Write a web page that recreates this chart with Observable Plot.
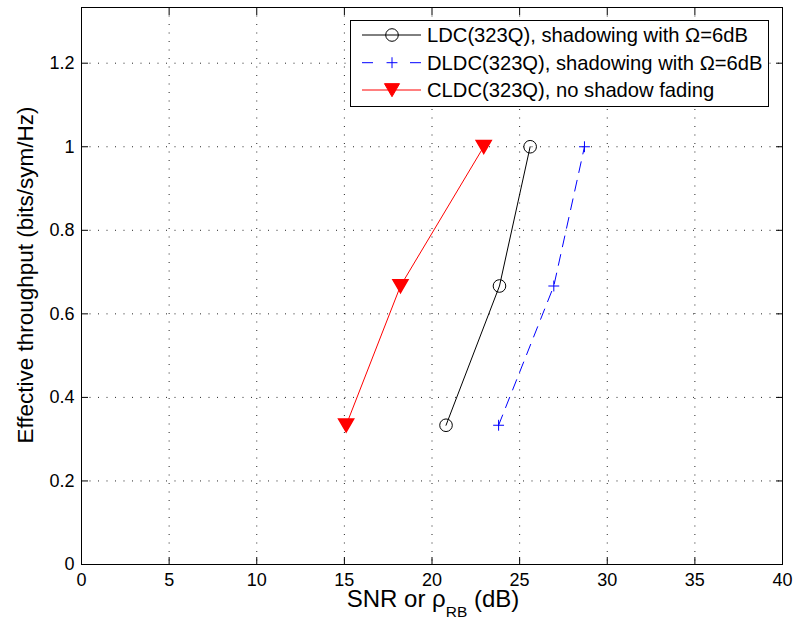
<!DOCTYPE html>
<html><head><meta charset="utf-8">
<script src="https://cdn.jsdelivr.net/npm/d3@7"></script>
<script src="https://cdn.jsdelivr.net/npm/@observablehq/plot@0.6"></script>
<style>
body{margin:0;background:#fff}
svg{font-family:"Liberation Sans",Arial,Helvetica,sans-serif}
</style>
</head><body><div id="chart"></div>
<script>
// ---- data ----
const throughput = [1/3, 2/3, 1];
const snrLDC  = [20.8, 23.85, 25.6];
const snrDLDC = [23.8, 26.95, 28.7];
const snrCLDC = [15.1, 18.2, 22.95];
const seriesNames = [
  "LDC(323Q), shadowing with \u03A9=6dB",
  "DLDC(323Q), shadowing with \u03A9=6dB",
  "CLDC(323Q), no shadow fading"
];
const xTicks = [0, 5, 10, 15, 20, 25, 30, 35, 40];
const yTicks = [0, 0.2, 0.4, 0.6, 0.8, 1, 1.2];
const xLabel = "SNR or \u03C1";
const xLabelSub = "RB";
const xLabelTail = " (dB)";
const yLabel = "Effective throughput (bits/sym/Hz)";

const rows = (snr, name) => snr.map((s, i) => ({series: name, snr: s, thr: throughput[i]}));
const ldc = rows(snrLDC, seriesNames[0]);
const dldc = rows(snrDLDC, seriesNames[1]);
const cldc = rows(snrCLDC, seriesNames[2]);

const RED = "#ff0000", BLUE = "#0000ff", BLACK = "#000000";
const grid = {stroke: "#000", strokeOpacity: 0.85, strokeWidth: 1, strokeDasharray: "1,7.5"};
const fmt = d => String(+(+d).toFixed(1));
const PLUS_R = 3.6;

const chart = Plot.plot({
  width: 802, height: 618,
  marginLeft: 81, marginRight: 20, marginTop: 7, marginBottom: 54,
  style: {fontFamily: '"Liberation Sans", Arial, Helvetica, sans-serif', fontSize: "18px", color: "#000", background: "#fff", overflow: "visible"},
  x: {domain: [0, 40], label: null},
  y: {domain: [0, 4/3], label: null},
  marks: [
    Plot.gridX(xTicks, grid),
    Plot.gridY(yTicks, grid),
    Plot.axisX(xTicks, {anchor: "bottom", tickSize: -7, tickPadding: 16, tickFormat: fmt, label: null}),
    Plot.axisX(xTicks, {anchor: "top", tickSize: -7, tickFormat: () => "", label: null}),
    Plot.axisY(yTicks, {anchor: "left", tickSize: -7, tickPadding: 14, tickFormat: fmt, label: null}),
    Plot.axisY(yTicks, {anchor: "right", tickSize: -7, tickFormat: () => "", label: null}),
    Plot.frame({stroke: "#000", strokeWidth: 1}),
    Plot.line(cldc, {x: "snr", y: "thr", stroke: RED, strokeWidth: 1}),
    Plot.line(ldc, {x: "snr", y: "thr", stroke: BLACK, strokeWidth: 1}),
    Plot.line(dldc, {x: "snr", y: "thr", stroke: BLUE, strokeWidth: 1, strokeDasharray: "11,8"}),
    Plot.dot(cldc, {x: "snr", y: "thr", symbol: "triangle", rotate: 180, r: 5.6, fill: RED, stroke: RED, dy: -2}),
    Plot.dot(ldc, {x: "snr", y: "thr", symbol: "circle", r: 6.3, fill: "none", stroke: BLACK, strokeWidth: 1}),
    Plot.dot(dldc, {x: "snr", y: "thr", symbol: "plus", r: PLUS_R, stroke: BLUE, strokeWidth: 1})
  ]
});
document.getElementById("chart").appendChild(chart);

const svg = d3.select(chart);
// axis labels
const xl = svg.append("text").attr("x", 433).attr("y", 607).attr("text-anchor", "middle")
  .attr("font-size", 24).attr("fill", "#000");
xl.append("tspan").text(xLabel);
xl.append("tspan").attr("font-size", 15.5).attr("dy", 9.5).text(xLabelSub);
xl.append("tspan").attr("dy", -9.5).text(xLabelTail);

svg.append("text").attr("transform", "translate(33,275) rotate(-90)").attr("text-anchor", "middle")
  .attr("font-size", 22.5).attr("fill", "#000").text(yLabel);

// legend
const lg = svg.append("g").attr("text-anchor", "start");
lg.append("rect").attr("x", 350.5).attr("y", 20.5).attr("width", 418).attr("height", 86)
  .attr("fill", "#fff").attr("stroke", "#000").attr("stroke-width", 1);
const legendItems = [
  {name: seriesNames[0], color: BLACK, dash: null, sym: d3.symbolCircle, size: Math.PI * 6.3 * 6.3, fill: "none", rot: 0, dy: 0},
  {name: seriesNames[1], color: BLUE, dash: "11,37", sym: d3.symbolPlus, size: Math.PI * PLUS_R * PLUS_R, fill: "none", rot: 0, dy: 0},
  {name: seriesNames[2], color: RED, dash: null, sym: d3.symbolTriangle, size: Math.PI * 5.6 * 5.6, fill: RED, rot: 180, dy: -2}
];
const rowY = [35, 62.7, 90];
legendItems.forEach((it, i) => {
  const y = rowY[i];
  const ln = lg.append("line").attr("x1", 362).attr("x2", 421).attr("y1", y).attr("y2", y)
    .attr("stroke", it.color).attr("stroke-width", 1);
  if (it.dash) ln.attr("stroke-dasharray", it.dash);
  lg.append("path").attr("d", d3.symbol(it.sym, it.size)())
    .attr("transform", `translate(392,${y + it.dy}) rotate(${it.rot})`)
    .attr("fill", it.fill).attr("stroke", it.color).attr("stroke-width", 1);
  lg.append("text").attr("x", 427).attr("y", y).attr("dy", "0.35em").attr("text-anchor", "start")
    .attr("font-size", 20.2).attr("fill", "#000").text(it.name);
});
</script>
</body></html>
